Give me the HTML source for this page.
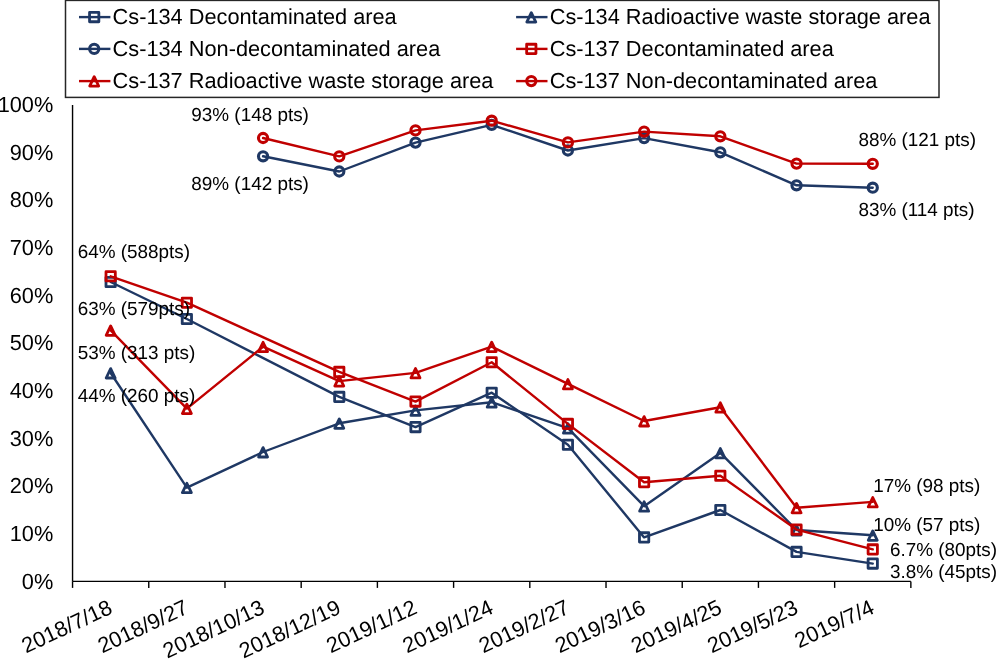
<!DOCTYPE html>
<html><head><meta charset="utf-8"><title>Chart</title>
<style>html,body{margin:0;padding:0;background:#fff;}svg{display:block;}svg{will-change:transform;}text{text-rendering:geometricPrecision;}
text{font-family:"Liberation Sans", sans-serif;}</style></head>
<body>
<svg width="996" height="659" viewBox="0 0 996 659">
<rect width="996" height="659" fill="#fff"/>
<g stroke="#000" stroke-width="1.4" fill="none">
<path d="M72.55 105.0V581.4"/>
<path d="M72.55 581.4H910.86"/>
<path d="M72.55 581.4V587.9"/>
<path d="M148.76 581.4V587.9"/>
<path d="M224.97 581.4V587.9"/>
<path d="M301.18 581.4V587.9"/>
<path d="M377.39 581.4V587.9"/>
<path d="M453.60 581.4V587.9"/>
<path d="M529.81 581.4V587.9"/>
<path d="M606.02 581.4V587.9"/>
<path d="M682.23 581.4V587.9"/>
<path d="M758.44 581.4V587.9"/>
<path d="M834.65 581.4V587.9"/>
<path d="M910.86 581.4V587.9"/>
</g>
<g font-family="Liberation Sans, sans-serif" font-size="21.75" fill="#000" text-anchor="end">
<text x="53.3" y="588.50">0%</text>
<text x="53.3" y="540.86">10%</text>
<text x="53.3" y="493.22">20%</text>
<text x="53.3" y="445.58">30%</text>
<text x="53.3" y="397.94">40%</text>
<text x="53.3" y="350.30">50%</text>
<text x="53.3" y="302.66">60%</text>
<text x="53.3" y="255.02">70%</text>
<text x="53.3" y="207.38">80%</text>
<text x="53.3" y="159.74">90%</text>
<text x="53.3" y="112.10">100%</text>
</g>
<g font-family="Liberation Sans, sans-serif" font-size="21.75" fill="#000" text-anchor="end">
<text transform="translate(110.66 606.3) rotate(-25)" x="0" y="7">2018/7/18</text>
<text transform="translate(186.87 606.3) rotate(-25)" x="0" y="7">2018/9/27</text>
<text transform="translate(263.07 606.3) rotate(-25)" x="0" y="7">2018/10/13</text>
<text transform="translate(339.28 606.3) rotate(-25)" x="0" y="7">2018/12/19</text>
<text transform="translate(415.50 606.3) rotate(-25)" x="0" y="7">2019/1/12</text>
<text transform="translate(491.70 606.3) rotate(-25)" x="0" y="7">2019/1/24</text>
<text transform="translate(567.91 606.3) rotate(-25)" x="0" y="7">2019/2/27</text>
<text transform="translate(644.12 606.3) rotate(-25)" x="0" y="7">2019/3/16</text>
<text transform="translate(720.33 606.3) rotate(-25)" x="0" y="7">2019/4/25</text>
<text transform="translate(796.54 606.3) rotate(-25)" x="0" y="7">2019/5/23</text>
<text transform="translate(872.75 606.3) rotate(-25)" x="0" y="7">2019/7/4</text>
</g>
<path d="M110.66 282.00 L186.87 319.00 L339.28 396.90 L415.50 427.10 L491.70 392.70 L567.91 444.80 L644.12 537.40 L720.33 510.00 L796.54 551.90 L872.75 563.60" fill="none" stroke="#1F3864" stroke-width="2.4" stroke-linejoin="round" stroke-linecap="round"/>
<rect x="106.00" y="277.35" width="9.3" height="9.3" fill="none" stroke="#1F3864" stroke-width="2.8" stroke-linejoin="round"/>
<rect x="182.22" y="314.35" width="9.3" height="9.3" fill="none" stroke="#1F3864" stroke-width="2.8" stroke-linejoin="round"/>
<rect x="334.63" y="392.25" width="9.3" height="9.3" fill="none" stroke="#1F3864" stroke-width="2.8" stroke-linejoin="round"/>
<rect x="410.85" y="422.45" width="9.3" height="9.3" fill="none" stroke="#1F3864" stroke-width="2.8" stroke-linejoin="round"/>
<rect x="487.05" y="388.05" width="9.3" height="9.3" fill="none" stroke="#1F3864" stroke-width="2.8" stroke-linejoin="round"/>
<rect x="563.26" y="440.15" width="9.3" height="9.3" fill="none" stroke="#1F3864" stroke-width="2.8" stroke-linejoin="round"/>
<rect x="639.47" y="532.75" width="9.3" height="9.3" fill="none" stroke="#1F3864" stroke-width="2.8" stroke-linejoin="round"/>
<rect x="715.68" y="505.35" width="9.3" height="9.3" fill="none" stroke="#1F3864" stroke-width="2.8" stroke-linejoin="round"/>
<rect x="791.89" y="547.25" width="9.3" height="9.3" fill="none" stroke="#1F3864" stroke-width="2.8" stroke-linejoin="round"/>
<rect x="868.10" y="558.95" width="9.3" height="9.3" fill="none" stroke="#1F3864" stroke-width="2.8" stroke-linejoin="round"/>
<path d="M110.66 373.00 L186.87 487.70 L263.07 452.00 L339.28 423.30 L415.50 410.40 L491.70 402.20 L567.91 428.20 L644.12 506.20 L720.33 452.90 L796.54 530.00 L872.75 535.30" fill="none" stroke="#1F3864" stroke-width="2.4" stroke-linejoin="round" stroke-linecap="round"/>
<path d="M110.66 368.60L115.16 378.00L106.16 378.00Z" fill="none" stroke="#1F3864" stroke-width="2.8" stroke-linejoin="round"/>
<path d="M186.87 483.30L191.37 492.70L182.37 492.70Z" fill="none" stroke="#1F3864" stroke-width="2.8" stroke-linejoin="round"/>
<path d="M263.07 447.60L267.57 457.00L258.57 457.00Z" fill="none" stroke="#1F3864" stroke-width="2.8" stroke-linejoin="round"/>
<path d="M339.28 418.90L343.78 428.30L334.78 428.30Z" fill="none" stroke="#1F3864" stroke-width="2.8" stroke-linejoin="round"/>
<path d="M415.50 406.00L420.00 415.40L411.00 415.40Z" fill="none" stroke="#1F3864" stroke-width="2.8" stroke-linejoin="round"/>
<path d="M491.70 397.80L496.20 407.20L487.20 407.20Z" fill="none" stroke="#1F3864" stroke-width="2.8" stroke-linejoin="round"/>
<path d="M567.91 423.80L572.41 433.20L563.41 433.20Z" fill="none" stroke="#1F3864" stroke-width="2.8" stroke-linejoin="round"/>
<path d="M644.12 501.80L648.62 511.20L639.62 511.20Z" fill="none" stroke="#1F3864" stroke-width="2.8" stroke-linejoin="round"/>
<path d="M720.33 448.50L724.83 457.90L715.83 457.90Z" fill="none" stroke="#1F3864" stroke-width="2.8" stroke-linejoin="round"/>
<path d="M796.54 525.60L801.04 535.00L792.04 535.00Z" fill="none" stroke="#1F3864" stroke-width="2.8" stroke-linejoin="round"/>
<path d="M872.75 530.90L877.25 540.30L868.25 540.30Z" fill="none" stroke="#1F3864" stroke-width="2.8" stroke-linejoin="round"/>
<path d="M263.07 156.30 L339.28 171.50 L415.50 142.60 L491.70 124.80 L567.91 150.50 L644.12 138.10 L720.33 152.30 L796.54 185.30 L872.75 187.70" fill="none" stroke="#1F3864" stroke-width="2.4" stroke-linejoin="round" stroke-linecap="round"/>
<circle cx="263.07" cy="156.30" r="4.6" fill="none" stroke="#1F3864" stroke-width="3.1"/>
<circle cx="339.28" cy="171.50" r="4.6" fill="none" stroke="#1F3864" stroke-width="3.1"/>
<circle cx="415.50" cy="142.60" r="4.6" fill="none" stroke="#1F3864" stroke-width="3.1"/>
<circle cx="491.70" cy="124.80" r="4.6" fill="none" stroke="#1F3864" stroke-width="3.1"/>
<circle cx="567.91" cy="150.50" r="4.6" fill="none" stroke="#1F3864" stroke-width="3.1"/>
<circle cx="644.12" cy="138.10" r="4.6" fill="none" stroke="#1F3864" stroke-width="3.1"/>
<circle cx="720.33" cy="152.30" r="4.6" fill="none" stroke="#1F3864" stroke-width="3.1"/>
<circle cx="796.54" cy="185.30" r="4.6" fill="none" stroke="#1F3864" stroke-width="3.1"/>
<circle cx="872.75" cy="187.70" r="4.6" fill="none" stroke="#1F3864" stroke-width="3.1"/>
<path d="M110.66 276.30 L186.87 302.70 L339.28 371.90 L415.50 401.60 L491.70 362.30 L567.91 423.90 L644.12 482.20 L720.33 475.80 L796.54 529.60 L872.75 549.40" fill="none" stroke="#C00000" stroke-width="2.4" stroke-linejoin="round" stroke-linecap="round"/>
<rect x="106.00" y="271.65" width="9.3" height="9.3" fill="none" stroke="#C00000" stroke-width="2.8" stroke-linejoin="round"/>
<rect x="182.22" y="298.05" width="9.3" height="9.3" fill="none" stroke="#C00000" stroke-width="2.8" stroke-linejoin="round"/>
<rect x="334.63" y="367.25" width="9.3" height="9.3" fill="none" stroke="#C00000" stroke-width="2.8" stroke-linejoin="round"/>
<rect x="410.85" y="396.95" width="9.3" height="9.3" fill="none" stroke="#C00000" stroke-width="2.8" stroke-linejoin="round"/>
<rect x="487.05" y="357.65" width="9.3" height="9.3" fill="none" stroke="#C00000" stroke-width="2.8" stroke-linejoin="round"/>
<rect x="563.26" y="419.25" width="9.3" height="9.3" fill="none" stroke="#C00000" stroke-width="2.8" stroke-linejoin="round"/>
<rect x="639.47" y="477.55" width="9.3" height="9.3" fill="none" stroke="#C00000" stroke-width="2.8" stroke-linejoin="round"/>
<rect x="715.68" y="471.15" width="9.3" height="9.3" fill="none" stroke="#C00000" stroke-width="2.8" stroke-linejoin="round"/>
<rect x="791.89" y="524.95" width="9.3" height="9.3" fill="none" stroke="#C00000" stroke-width="2.8" stroke-linejoin="round"/>
<rect x="868.10" y="544.75" width="9.3" height="9.3" fill="none" stroke="#C00000" stroke-width="2.8" stroke-linejoin="round"/>
<path d="M110.66 330.30 L186.87 408.60 L263.07 346.70 L339.28 381.10 L415.50 372.90 L491.70 346.60 L567.91 383.90 L644.12 421.00 L720.33 407.20 L796.54 507.80 L872.75 501.90" fill="none" stroke="#C00000" stroke-width="2.4" stroke-linejoin="round" stroke-linecap="round"/>
<path d="M110.66 325.90L115.16 335.30L106.16 335.30Z" fill="none" stroke="#C00000" stroke-width="2.8" stroke-linejoin="round"/>
<path d="M186.87 404.20L191.37 413.60L182.37 413.60Z" fill="none" stroke="#C00000" stroke-width="2.8" stroke-linejoin="round"/>
<path d="M263.07 342.30L267.57 351.70L258.57 351.70Z" fill="none" stroke="#C00000" stroke-width="2.8" stroke-linejoin="round"/>
<path d="M339.28 376.70L343.78 386.10L334.78 386.10Z" fill="none" stroke="#C00000" stroke-width="2.8" stroke-linejoin="round"/>
<path d="M415.50 368.50L420.00 377.90L411.00 377.90Z" fill="none" stroke="#C00000" stroke-width="2.8" stroke-linejoin="round"/>
<path d="M491.70 342.20L496.20 351.60L487.20 351.60Z" fill="none" stroke="#C00000" stroke-width="2.8" stroke-linejoin="round"/>
<path d="M567.91 379.50L572.41 388.90L563.41 388.90Z" fill="none" stroke="#C00000" stroke-width="2.8" stroke-linejoin="round"/>
<path d="M644.12 416.60L648.62 426.00L639.62 426.00Z" fill="none" stroke="#C00000" stroke-width="2.8" stroke-linejoin="round"/>
<path d="M720.33 402.80L724.83 412.20L715.83 412.20Z" fill="none" stroke="#C00000" stroke-width="2.8" stroke-linejoin="round"/>
<path d="M796.54 503.40L801.04 512.80L792.04 512.80Z" fill="none" stroke="#C00000" stroke-width="2.8" stroke-linejoin="round"/>
<path d="M872.75 497.50L877.25 506.90L868.25 506.90Z" fill="none" stroke="#C00000" stroke-width="2.8" stroke-linejoin="round"/>
<path d="M263.07 138.00 L339.28 156.40 L415.50 130.40 L491.70 120.70 L567.91 142.40 L644.12 131.60 L720.33 136.30 L796.54 163.60 L872.75 163.80" fill="none" stroke="#C00000" stroke-width="2.4" stroke-linejoin="round" stroke-linecap="round"/>
<circle cx="263.07" cy="138.00" r="4.6" fill="none" stroke="#C00000" stroke-width="3.1"/>
<circle cx="339.28" cy="156.40" r="4.6" fill="none" stroke="#C00000" stroke-width="3.1"/>
<circle cx="415.50" cy="130.40" r="4.6" fill="none" stroke="#C00000" stroke-width="3.1"/>
<circle cx="491.70" cy="120.70" r="4.6" fill="none" stroke="#C00000" stroke-width="3.1"/>
<circle cx="567.91" cy="142.40" r="4.6" fill="none" stroke="#C00000" stroke-width="3.1"/>
<circle cx="644.12" cy="131.60" r="4.6" fill="none" stroke="#C00000" stroke-width="3.1"/>
<circle cx="720.33" cy="136.30" r="4.6" fill="none" stroke="#C00000" stroke-width="3.1"/>
<circle cx="796.54" cy="163.60" r="4.6" fill="none" stroke="#C00000" stroke-width="3.1"/>
<circle cx="872.75" cy="163.80" r="4.6" fill="none" stroke="#C00000" stroke-width="3.1"/>
<g font-family="Liberation Sans, sans-serif" font-size="18.9" fill="#000">
<text x="191.30" y="120.60">93% (148 pts)</text>
<text x="191.30" y="190.30">89% (142 pts)</text>
<text x="858.40" y="146.00">88% (121 pts)</text>
<text x="858.40" y="216.10">83% (114 pts)</text>
<text x="77.70" y="258.30">64% (588pts)</text>
<text x="77.70" y="315.10">63% (579pts)</text>
<text x="77.70" y="359.10">53% (313 pts)</text>
<text x="77.70" y="402.30">44% (260 pts)</text>
<text x="873.20" y="491.90">17% (98 pts)</text>
<text x="873.20" y="531.30">10% (57 pts)</text>
<text x="890.00" y="555.80">6.7% (80pts)</text>
<text x="890.00" y="577.80">3.8% (45pts)</text>
</g>
<rect x="65.5" y="0.4" width="873.5" height="97.0" fill="none" stroke="#262626" stroke-width="1.5"/>
<g font-family="Liberation Sans, sans-serif" font-size="21.75" fill="#000">
<path d="M79.0 17.1H110.4" stroke="#1F3864" stroke-width="2.4"/>
<rect x="89.55" y="12.45" width="9.3" height="9.3" fill="none" stroke="#1F3864" stroke-width="2.8" stroke-linejoin="round"/>
<text x="112.60" y="23.80">Cs-134 Decontaminated area</text>
<path d="M516.1 17.1H547.5" stroke="#1F3864" stroke-width="2.4"/>
<path d="M531.30 12.70L535.80 22.10L526.80 22.10Z" fill="none" stroke="#1F3864" stroke-width="2.8" stroke-linejoin="round"/>
<text x="549.70" y="23.80">Cs-134 Radioactive waste storage area</text>
<path d="M79.0 48.9H110.4" stroke="#1F3864" stroke-width="2.4"/>
<circle cx="94.20" cy="48.90" r="4.6" fill="none" stroke="#1F3864" stroke-width="3.1"/>
<text x="112.60" y="55.80">Cs-134 Non-decontaminated area</text>
<path d="M516.1 48.9H547.5" stroke="#C00000" stroke-width="2.4"/>
<rect x="526.65" y="44.25" width="9.3" height="9.3" fill="none" stroke="#C00000" stroke-width="2.8" stroke-linejoin="round"/>
<text x="549.70" y="55.80">Cs-137 Decontaminated area</text>
<path d="M79.0 81.1H110.4" stroke="#C00000" stroke-width="2.4"/>
<path d="M94.20 76.70L98.70 86.10L89.70 86.10Z" fill="none" stroke="#C00000" stroke-width="2.8" stroke-linejoin="round"/>
<text x="112.60" y="87.90">Cs-137 Radioactive waste storage area</text>
<path d="M516.1 81.1H547.5" stroke="#C00000" stroke-width="2.4"/>
<circle cx="531.30" cy="81.10" r="4.6" fill="none" stroke="#C00000" stroke-width="3.1"/>
<text x="549.70" y="87.90">Cs-137 Non-decontaminated area</text>
</g>
</svg>
</body></html>
